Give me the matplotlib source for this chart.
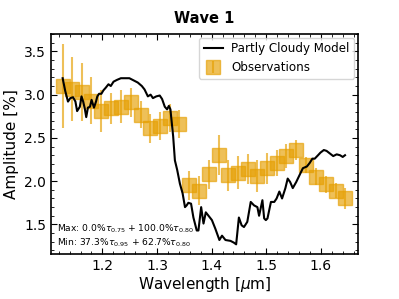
import numpy as np
import matplotlib
matplotlib.use("Agg")
import matplotlib.pyplot as plt
from matplotlib.ticker import MultipleLocator

# partly cloudy model curve
model_wl = [1.1272, 1.1320, 1.1370, 1.1413, 1.1463, 1.1506, 1.1537, 1.1587, 1.1617, 1.1648,
            1.1680, 1.1704, 1.1735, 1.1772, 1.1802, 1.1846, 1.1883, 1.1907, 1.1939, 1.1981,
            1.2019, 1.2061, 1.2111, 1.2154, 1.2204, 1.2265, 1.2339, 1.2431, 1.2494, 1.2556,
            1.2648, 1.2722, 1.2772, 1.2833, 1.2883, 1.2926, 1.2987, 1.3050, 1.3093, 1.3143,
            1.3185, 1.3217, 1.3246, 1.3265, 1.3296, 1.3328, 1.3370, 1.3420, 1.3469, 1.3513,
            1.3543, 1.3574, 1.3624, 1.3667, 1.3728, 1.3759, 1.3809, 1.3852, 1.3894, 1.3944,
            1.4006, 1.4069, 1.4143, 1.4191, 1.4254, 1.4346, 1.4407, 1.4450, 1.4500, 1.4550,
            1.4593, 1.4654, 1.4717, 1.4778, 1.4839, 1.4870, 1.4931, 1.4963, 1.4994, 1.5024,
            1.5087, 1.5148, 1.5191, 1.5241, 1.5291, 1.5352, 1.5394, 1.5439, 1.5487, 1.5550,
            1.5611, 1.5672, 1.5746, 1.5796, 1.5846, 1.5889, 1.5950, 1.5994, 1.6056, 1.6106,
            1.6167, 1.6228, 1.6291, 1.6352, 1.6402, 1.6444]
model_amp = [3.19, 3.04, 2.92, 2.96, 2.97, 2.92, 2.81, 2.86, 2.98, 2.92,
             2.83, 2.74, 2.85, 2.86, 2.94, 2.85, 2.92, 2.98, 3.01, 3.01,
             3.05, 3.08, 3.12, 3.10, 3.15, 3.17, 3.19, 3.19, 3.19, 3.17,
             3.14, 3.10, 3.06, 2.98, 3.00, 2.96, 2.98, 2.99, 2.95, 2.86,
             2.83, 2.87, 2.83, 2.71, 2.52, 2.24, 2.13, 1.97, 1.86, 1.70,
             1.72, 1.75, 1.74, 1.58, 1.43, 1.43, 1.70, 1.51, 1.64, 1.60,
             1.55, 1.45, 1.32, 1.37, 1.32, 1.31, 1.29, 1.27, 1.58, 1.49,
             1.47, 1.53, 1.76, 1.72, 1.70, 1.60, 1.78, 1.57, 1.55, 1.57,
             1.76, 1.76, 1.80, 1.88, 1.80, 1.92, 2.03, 1.99, 1.92, 1.99,
             2.07, 2.15, 2.17, 2.21, 2.26, 2.26, 2.30, 2.33, 2.36, 2.35,
             2.32, 2.29, 2.31, 2.30, 2.28, 2.30]

# observations
obs_wl = [1.127, 1.145, 1.163, 1.180, 1.198, 1.216, 1.234, 1.252, 1.270, 1.288,
          1.305, 1.323, 1.341, 1.359, 1.377, 1.395, 1.413, 1.430, 1.448, 1.466,
          1.484, 1.502, 1.520, 1.537, 1.555, 1.573, 1.591, 1.609, 1.627, 1.644]
obs_amp = [3.10, 3.06, 3.03, 2.93, 2.81, 2.84, 2.86, 2.91, 2.77, 2.61,
           2.64, 2.73, 2.66, 1.95, 1.89, 2.08, 2.30, 2.07, 2.10, 2.14,
           2.06, 2.15, 2.21, 2.29, 2.36, 2.19, 2.05, 1.965, 1.89, 1.80]
obs_err = [0.48, 0.37, 0.34, 0.27, 0.24, 0.18, 0.19, 0.17, 0.155, 0.165,
           0.16, 0.16, 0.16, 0.17, 0.165, 0.17, 0.23, 0.18, 0.19, 0.17,
           0.18, 0.18, 0.145, 0.135, 0.12, 0.09, 0.10, 0.10, 0.09, 0.12]

fig = plt.figure(figsize=(3.99, 2.99), dpi=100)
ax = fig.add_axes([0.128, 0.151, 0.769, 0.735])

ax.plot(model_wl, model_amp, color='black', lw=1.5, label='Partly Cloudy Model', zorder=3)
ax.errorbar(obs_wl, obs_amp, yerr=obs_err, fmt='s', color='#E69F00', ms=9.5,
            alpha=0.65, elinewidth=1.5, label='Observations', zorder=2)

ax.set_xlim(1.106, 1.668)
ax.set_ylim(1.16, 3.70)
ax.xaxis.set_major_locator(MultipleLocator(0.1))
ax.xaxis.set_minor_locator(MultipleLocator(0.02))
ax.yaxis.set_major_locator(MultipleLocator(0.5))
ax.yaxis.set_minor_locator(MultipleLocator(0.1))
ax.tick_params(which='both', direction='in', top=True, right=True, labelsize=10)
ax.tick_params(which='major', length=4)
ax.tick_params(which='minor', length=2)
for s in ax.spines.values():
    s.set_linewidth(1.2)

ax.set_xlabel(r'Wavelength [$\mu$m]', fontsize=11, labelpad=2)
ax.set_ylabel('Amplitude [%]', fontsize=11, labelpad=4)
ax.set_title('Wave 1', fontsize=10.5, fontweight='bold', pad=8)

ax.legend(loc='upper right', fontsize=8.6, handlelength=1.6, handletextpad=0.7,
          borderpad=0.4, labelspacing=0.45, borderaxespad=0.3)

ax.text(0.02, 0.114, r'Max: 0.0%$\tau_{0.75}$ + 100.0%$\tau_{0.80}$',
        transform=ax.transAxes, fontsize=6.6, va='center')
ax.text(0.02, 0.05, r'Min: 37.3%$\tau_{0.95}$ + 62.7%$\tau_{0.80}$',
        transform=ax.transAxes, fontsize=6.6, va='center')

fig.savefig('out.png', dpi=100)
